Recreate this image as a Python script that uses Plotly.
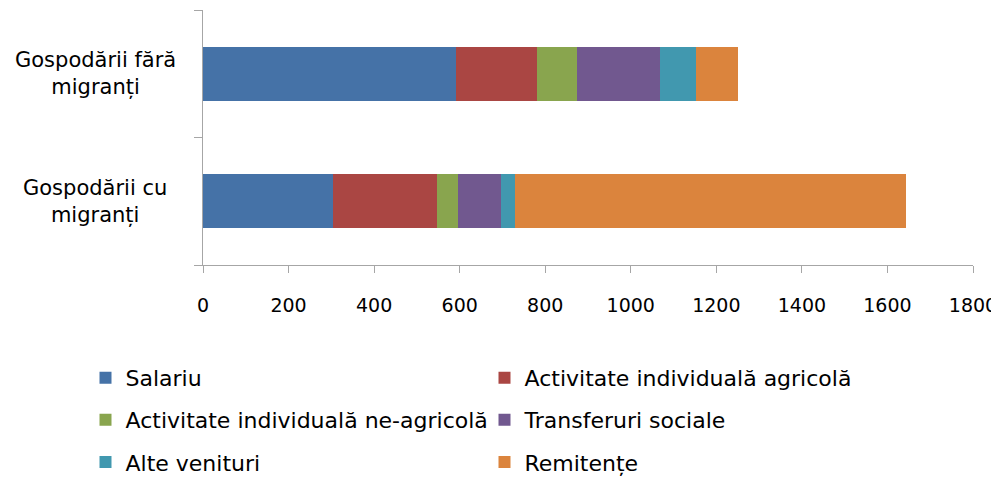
import plotly.graph_objects as go

categories = ["Gospodării cu migranți", "Gospodării fără migranți"]
category_labels = ["Gospodării cu<br>migranți", "Gospodării fără<br>migranți"]
series_names = ["Salariu", "Activitate individuală agricolă",
                "Activitate individuală ne-agricolă", "Transferuri sociale",
                "Alte venituri", "Remitențe"]
salariu = [303, 592]
agricola = [245, 189]
neagricola = [48, 94]
transferuri = [101, 193]
alte = [33, 84]
remitente = [913, 98]
x_ticks = [0, 200, 400, 600, 800, 1000, 1200, 1400, 1600, 1800]

values = [salariu, agricola, neagricola, transferuri, alte, remitente]
colors = ["#4572A7", "#AA4643", "#89A54E", "#71588F", "#4198AF", "#DB843D"]
legends = ["legend", "legend", "legend2", "legend2", "legend3", "legend3"]

FONT = "DejaVu Sans"
FS = 21
TFS = 19
LFS = 22

fig = go.Figure()
for name, vals, col, lg in zip(series_names, values, colors, legends):
    fig.add_trace(go.Bar(
        y=categories, x=vals, name=name, orientation="h",
        marker=dict(color=col, line=dict(width=0)),
        legend=lg,
    ))

for cat, lab in zip(categories, category_labels):
    fig.add_annotation(
        x=-0.14, xref="paper", y=cat, yref="y", text=lab, showarrow=False,
        xanchor="center", yanchor="middle", align="center",
        font=dict(family=FONT, size=FS, color="#000000"),
    )

leg_common = dict(
    orientation="h", xanchor="left", yanchor="middle",
    entrywidth=354, entrywidthmode="pixels", traceorder="normal",
    font=dict(family=FONT, size=LFS, color="#000000"),
    bgcolor="rgba(0,0,0,0)", itemclick=False, itemdoubleclick=False,
)
x0 = -0.1526
fig.update_layout(
    barmode="stack",
    bargap=0.58,
    width=991, height=474,
    margin=dict(l=195, r=26, t=2, b=217, autoexpand=False),
    paper_bgcolor="white", plot_bgcolor="white",
    font=dict(family=FONT, size=FS, color="#000000"),
    xaxis=dict(
        range=[0, 1800], tickvals=x_ticks, ticktext=[str(v) for v in x_ticks],
        showgrid=False, zeroline=False,
        showline=True, linecolor="#A6A6A6", linewidth=1,
        ticks="outside", ticklen=7, tickcolor="#A6A6A6",
        ticklabelstandoff=16, ticklabeloverflow="allow",
        tickfont=dict(family=FONT, size=TFS, color="#000000"),
    ),
    yaxis=dict(
        type="category", categoryorder="array", categoryarray=categories,
        showticklabels=False, showgrid=False, zeroline=False,
        showline=True, linecolor="#A6A6A6", linewidth=1,
        ticks="outside", ticklen=8, tickcolor="#A6A6A6",
        tickson="boundaries",
    ),
    legend=dict(x=x0, y=-0.443, **leg_common),
    legend2=dict(x=x0, y=-0.608, **leg_common),
    legend3=dict(x=x0, y=-0.773, **leg_common),
)

fig.write_html("out.html")
